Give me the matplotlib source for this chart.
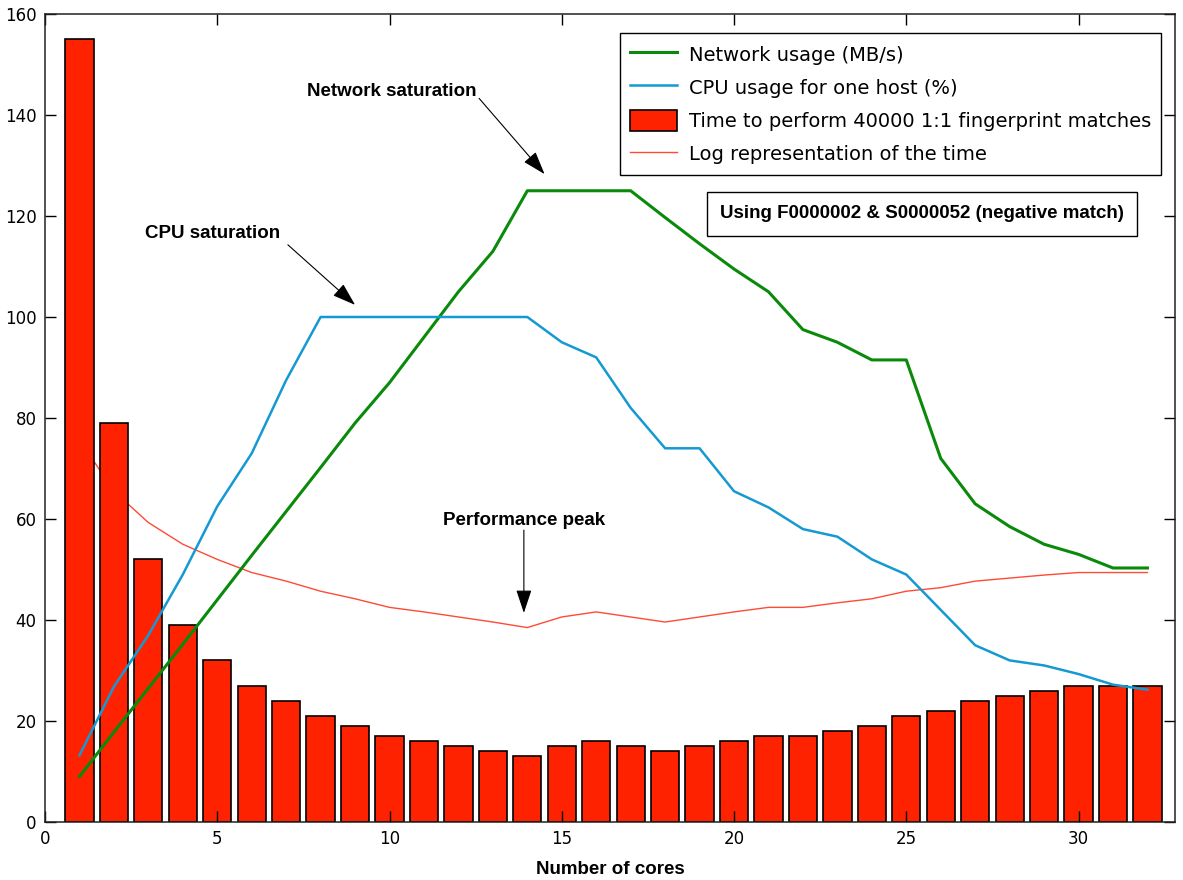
import numpy as np
import matplotlib
matplotlib.use("Agg")
import matplotlib.pyplot as plt
from matplotlib.lines import Line2D
from matplotlib.patches import Patch

# cores 1..32
cores = list(range(1, 33))
# time to run 40000 1:1 matches (s)
match_time = [155, 79, 52, 39, 32, 27, 24, 21, 19, 17, 16, 15, 14, 13, 15, 16,
              15, 14, 15, 16, 17, 17, 18, 19, 21, 22, 24, 25, 26, 27, 27, 27]
# network usage (MB/s)
net_usage = [9, 17.8, 26.5, 35.2, 44, 52.8, 61.5, 70.2, 79, 87, 96, 105, 113, 125, 125, 125,
             125, 119.7, 114.5, 109.5, 105, 97.5, 95, 91.5, 91.5, 72, 63, 58.5, 55, 53, 50.3, 50.3]
# cpu usage for one host (%)
cpu_usage = [13.2, 26.8, 37, 49, 62.5, 73, 87.5, 100, 100, 100, 100, 100, 100, 100, 95, 92,
             82, 74, 74, 65.5, 62.3, 58, 56.5, 52, 49, 42, 35, 32, 31, 29.3, 27.2, 26.2]
# log representation of the time
log_time = [75.7, 65.5, 59.3, 55.0, 52.0, 49.4, 47.7, 45.7, 44.2, 42.5, 41.6, 40.6, 39.6, 38.5, 40.6, 41.6,
            40.6, 39.6, 40.6, 41.6, 42.5, 42.5, 43.4, 44.2, 45.7, 46.4, 47.7, 48.3, 48.9, 49.4, 49.4, 49.4]

GREEN = "#0a8a0a"
BLUE = "#1599d3"
RED = "#ff2200"
LOGRED = "#ff4a35"

fig = plt.figure(figsize=(11.83, 8.80), dpi=100)
ax = fig.add_axes([45 / 1183, 58 / 880, 1130 / 1183, 808 / 880])

ax.plot(cores, log_time, color=LOGRED, lw=1.0, zorder=1)
ax.bar(cores, match_time, width=0.82, color=RED, edgecolor="black", linewidth=1.2, zorder=1.5)
ax.plot(cores, net_usage, color=GREEN, lw=2.2, zorder=3)
ax.plot(cores, cpu_usage, color=BLUE, lw=1.8, zorder=3)

ax.set_xlim(0, 32.8)
ax.set_ylim(0, 160)
ax.set_xticks(range(0, 31, 5))
ax.set_yticks(range(0, 161, 20))
ax.tick_params(direction="in", length=8, width=1, top=True, right=True,
               labelsize=12, pad=6)
for sp in ax.spines.values():
    sp.set_linewidth(1.1)
    sp.set_color("#222222")

bold = dict(family="Liberation Sans", weight="bold", size=13.5)
ax.set_xlabel("Number of cores", labelpad=9, **bold)

arrow = dict(arrowstyle="-|>,head_length=0.9,head_width=0.3", color="black",
             lw=0.8, shrinkA=0, shrinkB=0, mutation_scale=16)
ax.text(10.07, 144.6, "Network saturation", ha="center", va="center", **bold)
ax.annotate("", xy=(14.5, 128.3), xytext=(12.6, 143.3), arrowprops=arrow)
ax.text(4.85, 116.6, "CPU saturation", ha="center", va="center", **bold)
ax.annotate("", xy=(9.0, 102.4), xytext=(7.05, 114.3), arrowprops=arrow)
ax.text(13.9, 59.8, "Performance peak", ha="center", va="center", **bold)
ax.annotate("", xy=(13.9, 41.4), xytext=(13.9, 57.8), arrowprops=arrow)

ax.text(25.46, 120.4, "Using F0000002 & S0000052 (negative match)", ha="center", va="center",
        bbox=dict(boxstyle="square,pad=0.7", fc="white", ec="black", lw=1), **bold)

handles = [
    Line2D([], [], color=GREEN, lw=2.2),
    Line2D([], [], color=BLUE, lw=1.8),
    Patch(facecolor=RED, edgecolor="black", linewidth=1.2),
    Line2D([], [], color=LOGRED, lw=1.0),
]
labels = ["Network usage (MB/s)", "CPU usage for one host (%)",
          "Time to perform 40000 1:1 fingerprint matches", "Log representation of the time"]
leg = ax.legend(handles, labels, loc="upper right", bbox_to_anchor=(0.988, 0.976),
                borderaxespad=0, fontsize=14, handlelength=2.45, handleheight=1.3,
                handletextpad=0.6, labelspacing=0.62, borderpad=0.52, fancybox=False,
                framealpha=1, edgecolor="black")
leg.get_frame().set_linewidth(1.0)

fig.savefig("out.png", dpi=100)
